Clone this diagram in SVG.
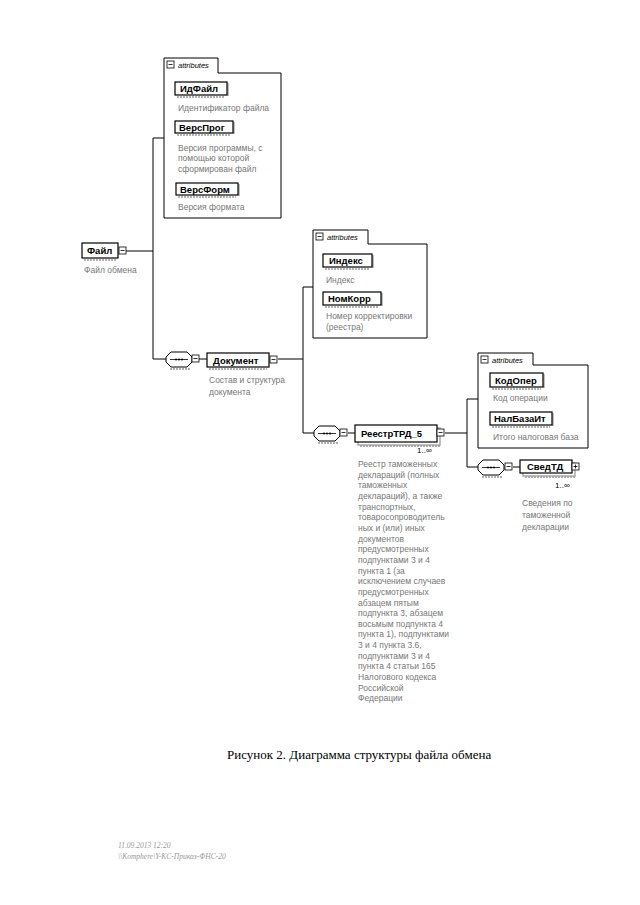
<svg xmlns="http://www.w3.org/2000/svg" width="640" height="905" viewBox="0 0 640 905">
<defs>
<style>
.bx{fill:#fff;stroke:#000;stroke-width:1.2}
.sh{fill:none;stroke:#aaa;stroke-width:1.5}
.ul{stroke:#999;stroke-width:1.5;stroke-dasharray:2 1}
.lbl{font-family:"Liberation Sans",Arial,sans-serif;font-weight:bold;font-size:9.5px;fill:#000}
.desc{font-family:"Liberation Sans",Arial,sans-serif;font-size:8.5px;fill:#777}
.ln{stroke:#000;stroke-width:1;fill:none}
.att{fill:#fff;stroke:#000;stroke-width:1}
.tab{font-family:"Liberation Sans",Arial,sans-serif;font-style:italic;font-size:7.5px;fill:#000}
.sq{fill:#fff;stroke:#000;stroke-width:0.8}
.occ{font-family:"Liberation Sans",Arial,sans-serif;font-size:8px;fill:#000}
</style>
<g id="minus">
<rect class="sq" x="0" y="0" width="7" height="7"/>
<line x1="1.5" y1="3.5" x2="5.5" y2="3.5" stroke="#000" stroke-width="0.8"/>
</g>
<g id="plus">
<rect class="sq" x="0" y="0" width="7" height="7"/>
<line x1="1.5" y1="3.5" x2="5.5" y2="3.5" stroke="#000" stroke-width="0.8"/>
<line x1="3.5" y1="1.5" x2="3.5" y2="5.5" stroke="#000" stroke-width="0.8"/>
</g>
<g id="seq">
<path d="M5,0 H21 L26,5 V10 L21,15 H5 L0,10 V5 Z" fill="#fff" stroke="#000" stroke-width="1"/>
<line x1="4" y1="7.5" x2="22" y2="7.5" stroke="#000" stroke-width="0.8"/>
<circle cx="10" cy="7.5" r="1" fill="#000"/>
<circle cx="13" cy="7.5" r="1" fill="#000"/>
<circle cx="16" cy="7.5" r="1" fill="#000"/>
</g>
</defs>
<rect width="640" height="905" fill="#fff"/>

<g id="connectors">
<line class="ln" x1="126" y1="251" x2="153" y2="251"/>
<line class="ln" x1="153" y1="138" x2="153" y2="359"/>
<line class="ln" x1="153" y1="138" x2="164" y2="138"/>
<line class="ln" x1="153" y1="359" x2="166" y2="359"/>
<line class="ln" x1="199" y1="359" x2="207" y2="359"/>
<line class="ln" x1="278" y1="359" x2="303" y2="359"/>
<line class="ln" x1="303" y1="287" x2="303" y2="433"/>
<line class="ln" x1="303" y1="287" x2="313" y2="287"/>
<line class="ln" x1="303" y1="433" x2="314" y2="433"/>
<line class="ln" x1="348" y1="433" x2="355" y2="433"/>
<line class="ln" x1="445" y1="433" x2="467" y2="433"/>
<line class="ln" x1="467" y1="399" x2="467" y2="467"/>
<line class="ln" x1="467" y1="399" x2="478" y2="399"/>
<line class="ln" x1="467" y1="467" x2="478" y2="467"/>
<line class="ln" x1="513" y1="467" x2="520" y2="467"/>
</g>

<g id="node-fail">
<line class="ul" x1="84" y1="260" x2="116" y2="260"/>
<rect class="bx" x="82" y="243" width="36" height="15"/>
<text class="lbl" x="87" y="254">Файл</text>
<use href="#minus" x="119" y="247"/>
<text class="desc" x="84" y="273">Файл обмена</text>
</g>

<g id="attributes-1">
<path class="att" d="M164,218 V58 H218 V73 H281 V218 Z"/>
<use href="#minus" x="167" y="61"/>
<text class="tab" x="178" y="68">attributes</text>
</g>
<g id="node-idfail">
<line class="ul" x1="177" y1="97" x2="225" y2="97"/>
<line class="sh" x1="228" y1="83" x2="228" y2="96"/>
<rect class="bx" x="175" y="82" width="52" height="13"/>
<text class="lbl" x="180" y="92">ИдФайл</text>
<text class="desc" x="178" y="111">Идентификатор файла</text>
</g>
<g id="node-versprog">
<line class="ul" x1="177" y1="135" x2="231" y2="135"/>
<line class="sh" x1="234" y1="122" x2="234" y2="134"/>
<rect class="bx" x="175" y="121" width="58" height="12"/>
<text class="lbl" x="179" y="131">ВерсПрог</text>
<text class="desc" x="178" y="151">Версия программы, с</text>
<text class="desc" x="178" y="161">помощью которой</text>
<text class="desc" x="178" y="172">сформирован файл</text>
</g>
<g id="node-versform">
<line class="ul" x1="178" y1="197" x2="236" y2="197"/>
<line class="sh" x1="239" y1="184" x2="239" y2="196"/>
<rect class="bx" x="176" y="183" width="62" height="12"/>
<text class="lbl" x="180" y="193">ВерсФорм</text>
<text class="desc" x="178" y="210">Версия формата</text>
</g>

<g id="seq-1">
<use href="#seq" x="166" y="352"/>
<line class="ul" x1="170" y1="369" x2="190" y2="369"/>
<use href="#minus" x="192" y="355"/>
</g>
<g id="node-dokument">
<line class="ul" x1="209" y1="369" x2="267" y2="369"/>
<rect class="bx" x="207" y="353" width="62" height="14"/>
<text class="lbl" x="213" y="364">Документ</text>
<use href="#minus" x="270" y="356"/>
<text class="desc" x="209" y="383">Состав и структура</text>
<text class="desc" x="209" y="395">документа</text>
</g>

<g id="attributes-2">
<path class="att" d="M313,338 V230 H368 V244 H427 V338 Z"/>
<use href="#minus" x="316" y="233"/>
<text class="tab" x="327" y="240">attributes</text>
</g>
<g id="node-indeks">
<line class="ul" x1="325" y1="269" x2="370" y2="269"/>
<line class="sh" x1="373" y1="255" x2="373" y2="268"/>
<rect class="bx" x="323" y="254" width="49" height="13"/>
<text class="lbl" x="329" y="264">Индекс</text>
<text class="desc" x="326" y="283">Индекс</text>
</g>
<g id="node-nomkorr">
<line class="ul" x1="325" y1="307" x2="379" y2="307"/>
<line class="sh" x1="382" y1="293" x2="382" y2="306"/>
<rect class="bx" x="323" y="292" width="58" height="13"/>
<text class="lbl" x="328" y="302">НомКорр</text>
<text class="desc" x="326" y="319">Номер корректировки</text>
<text class="desc" x="326" y="330">(реестра)</text>
</g>

<g id="seq-2">
<use href="#seq" x="314" y="426"/>
<line class="ul" x1="318" y1="443" x2="338" y2="443"/>
<use href="#minus" x="340" y="429"/>
</g>
<g id="node-reestr">
<rect class="sh" x="358" y="428" width="82" height="17"/>
<line class="ul" x1="360" y1="446" x2="440" y2="446"/>
<rect class="bx" x="355" y="425" width="82" height="17"/>
<text class="lbl" x="361" y="437">РеестрТРД_5</text>
<use href="#minus" x="437" y="429"/>
<text class="occ" x="417" y="453">1..∞</text>
<text class="desc" x="358">
<tspan x="358" y="467">Реестр таможенных</tspan>
<tspan x="358" y="477.7">деклараций (полных</tspan>
<tspan x="358" y="488.3">таможенных</tspan>
<tspan x="358" y="499">деклараций), а также</tspan>
<tspan x="358" y="509.6">транспортных,</tspan>
<tspan x="358" y="520.3">товаросопроводитель</tspan>
<tspan x="358" y="531">ных и (или) иных</tspan>
<tspan x="358" y="541.6">документов</tspan>
<tspan x="358" y="552.2">предусмотренных</tspan>
<tspan x="358" y="562.9">подпунктами 3 и 4</tspan>
<tspan x="358" y="573.5">пункта 1 (за</tspan>
<tspan x="358" y="584.2">исключением случаев</tspan>
<tspan x="358" y="594.8">предусмотренных</tspan>
<tspan x="358" y="605.5">абзацем пятым</tspan>
<tspan x="358" y="616.1">подпункта 3, абзацем</tspan>
<tspan x="358" y="626.8">восьмым подпункта 4</tspan>
<tspan x="358" y="637.4">пункта 1), подпунктами</tspan>
<tspan x="358" y="648.1">3 и 4 пункта 3.6,</tspan>
<tspan x="358" y="658.7">подпунктами 3 и 4</tspan>
<tspan x="358" y="669.4">пункта 4 статьи 165</tspan>
<tspan x="358" y="680">Налогового кодекса</tspan>
<tspan x="358" y="690.7">Российской</tspan>
<tspan x="358" y="701.3">Федерации</tspan>
</text>
</g>

<g id="attributes-3">
<path class="att" d="M478,448 V353 H533 V365 H588 V448 Z"/>
<use href="#minus" x="481" y="356"/>
<text class="tab" x="492" y="363">attributes</text>
</g>
<g id="node-kodoper">
<line class="ul" x1="492" y1="389" x2="541" y2="389"/>
<line class="sh" x1="544" y1="374" x2="544" y2="388"/>
<rect class="bx" x="490" y="373" width="53" height="14"/>
<text class="lbl" x="495" y="384">КодОпер</text>
<text class="desc" x="493" y="401">Код операции</text>
</g>
<g id="node-nalbazait">
<line class="ul" x1="492" y1="427" x2="550" y2="427"/>
<line class="sh" x1="553" y1="413" x2="553" y2="426"/>
<rect class="bx" x="490" y="412" width="62" height="13"/>
<text class="lbl" x="494" y="422">НалБазаИт</text>
<text class="desc" x="493" y="440">Итого налоговая база</text>
</g>

<g id="seq-3">
<use href="#seq" x="478" y="460"/>
<line class="ul" x1="482" y1="477" x2="502" y2="477"/>
<use href="#minus" x="505" y="463"/>
</g>
<g id="node-svedtd">
<rect class="sh" x="523" y="463" width="52" height="13"/>
<line class="ul" x1="525" y1="477" x2="575" y2="477"/>
<rect class="bx" x="520" y="460" width="52" height="13"/>
<text class="lbl" x="527" y="470">СведТД</text>
<use href="#plus" x="572" y="463"/>
<text class="occ" x="555" y="488">1..∞</text>
<text class="desc" x="522" y="506">Сведения по</text>
<text class="desc" x="522" y="518">таможенной</text>
<text class="desc" x="522" y="530">декларации</text>
</g>

<text x="227" y="759" font-family="'Liberation Serif','Times New Roman',serif" font-size="13" fill="#000">Рисунок 2. Диаграмма структуры файла обмена</text>
<text x="118" y="848" font-family="'Liberation Serif',serif" font-style="italic" font-size="7.5" fill="#999">11.09.2013 12:20</text>
<text x="118" y="859" font-family="'Liberation Serif',serif" font-style="italic" font-size="7.5" fill="#999">\\Komphere\Y-KC-Приказ-ФНС-20</text>
</svg>
